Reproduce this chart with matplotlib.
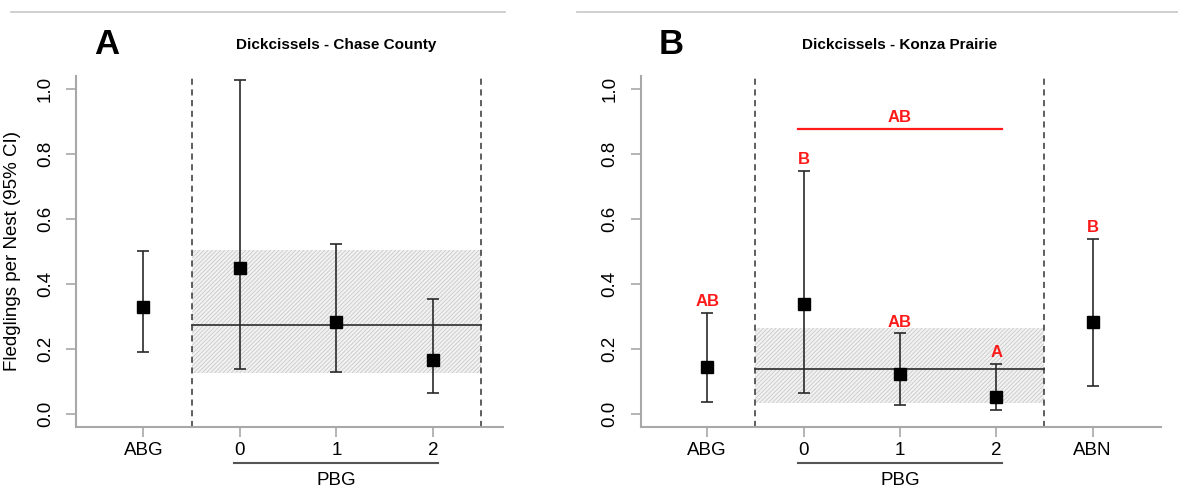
import matplotlib
matplotlib.use("Agg")
import matplotlib.pyplot as plt
from matplotlib.lines import Line2D
from matplotlib.transforms import blended_transform_factory

plt.rcParams['font.family'] = ['Liberation Sans', 'DejaVu Sans']
plt.rcParams['hatch.linewidth'] = 0.6

# Dickcissels - Chase County
chase_groups = ["ABG", "0", "1", "2"]
chase_est = [0.328, 0.447, 0.283, 0.166]
chase_lo = [0.191, 0.136, 0.129, 0.0625]
chase_hi = [0.502, 1.027, 0.521, 0.353]
chase_pbg_mean = 0.272
chase_pbg_lo = 0.126
chase_pbg_hi = 0.505

# Dickcissels - Konza Prairie
konza_groups = ["ABG", "0", "1", "2", "ABN"]
konza_est = [0.145, 0.338, 0.121, 0.050, 0.282]
konza_lo = [0.035, 0.064, 0.027, 0.010, 0.085]
konza_hi = [0.311, 0.748, 0.247, 0.152, 0.537]
konza_letters = ["AB", "B", "AB", "A", "B"]
konza_pbg_mean = 0.138
konza_pbg_lo = 0.033
konza_pbg_hi = 0.265
konza_pbg_letter = "AB"
konza_pbg_letter_y = 0.877

pbg_levels = ["0", "1", "2"]
yticks = [0.0, 0.2, 0.4, 0.6, 0.8, 1.0]

W, H = 1178, 487
fig = plt.figure(figsize=(W / 100, H / 100), dpi=100)

AX_TOP, AX_BOT = 75.7, 426.7


def px_axes(left, right):
    return fig.add_axes([left / W, 1 - AX_BOT / H, (right - left) / W, (AX_BOT - AX_TOP) / H])


SPINE = "#a8a8a8"
BAR = "#2a2a2a"


def draw_panel(ax, groups, est, lo, hi, mean, band_lo, band_hi, xlim, title):
    x = list(range(len(groups)))
    pbg_x = [i for i, g in enumerate(groups) if g in pbg_levels]
    left_div = pbg_x[0] - 0.5
    right_div = pbg_x[-1] + 0.5

    # shaded CI band of the pooled PBG estimate
    ax.fill_between([left_div, right_div], band_lo, band_hi, facecolor="#f2f2f2",
                    edgecolor="#c9c9c9", hatch="/" * 8, linewidth=0, zorder=1)
    ax.plot([left_div, right_div], [mean, mean], color="#3a3a3a", lw=1.3, zorder=2)

    for d in (left_div, right_div):
        ax.axvline(d, color="#333333", lw=1.1, linestyle=(0, (4, 3)), zorder=2)

    yerr = [[e - l for e, l in zip(est, lo)], [h - e for e, h in zip(est, hi)]]
    ax.errorbar(x, est, yerr=yerr, fmt="s", color="black", ecolor=BAR,
                elinewidth=1.2, capsize=4, capthick=1.2, markersize=8.5, zorder=3)

    ax.set_xlim(*xlim)
    ax.set_ylim(-0.04, 1.04)
    ax.set_xticks(x)
    ax.set_xticklabels(groups, fontsize=13.5)
    ax.set_yticks(yticks)
    ax.set_yticklabels([f"{v:.1f}" for v in yticks], fontsize=13.5, rotation=90,
                       va="center")
    for s in ("top", "right"):
        ax.spines[s].set_visible(False)
    for s in ("left", "bottom"):
        ax.spines[s].set_color(SPINE)
        ax.spines[s].set_linewidth(1.5)
    ax.tick_params(axis="both", color=SPINE, length=7, width=1.2)
    ax.tick_params(axis="y", pad=9)
    ax.tick_params(axis="x", pad=4)

    tr = blended_transform_factory(ax.transData, ax.transAxes)
    # PBG group bracket under the axis
    ext = 0.056
    ax.add_line(Line2D([pbg_x[0] - ext, pbg_x[-1] + ext], [-0.1026, -0.1026],
                       transform=tr, color="#555555", lw=1.5, clip_on=False))
    ax.text((pbg_x[0] + pbg_x[-1]) / 2, -0.152, "PBG", transform=tr, ha="center",
            va="center", fontsize=13.5)
    ax.text((pbg_x[0] + pbg_x[-1]) / 2, 1.0875, title, transform=tr, ha="center",
            va="center", fontsize=11, fontweight="bold")
    return pbg_x


axA = px_axes(76.3, 503.4)
draw_panel(axA, chase_groups, chase_est, chase_lo, chase_hi, chase_pbg_mean,
           chase_pbg_lo, chase_pbg_hi, (-0.694, 3.73), "Dickcissels - Chase County")
axA.set_ylabel("Fledglings per Nest (95% CI)", fontsize=13.5)
axA.yaxis.set_label_coords(-0.1295, 0.5)

axB = px_axes(640.7, 1161)
pbg_x = draw_panel(axB, konza_groups, konza_est, konza_lo, konza_hi, konza_pbg_mean,
                   konza_pbg_lo, konza_pbg_hi, (-0.69, 4.71), "Dickcissels - Konza Prairie")

RED = "#ff1a1a"
for xi, (h, lab) in enumerate(zip(konza_hi, konza_letters)):
    axB.text(xi, h + 0.035, lab, color=RED, fontsize=12, fontweight="bold",
             ha="center", va="center", zorder=4)
ext = 0.056
axB.plot([pbg_x[0] - ext, pbg_x[-1] + ext], [konza_pbg_letter_y] * 2, color=RED, lw=1.6)
axB.text((pbg_x[0] + pbg_x[-1]) / 2, konza_pbg_letter_y + 0.033, konza_pbg_letter,
         color=RED, fontsize=12, fontweight="bold", ha="center", va="center")

# panel letters and separator rules
fig.text(106.6 / W, 1 - 45 / H, "A", fontsize=25, fontweight="bold", ha="center", va="center")
fig.text(671 / W, 1 - 44 / H, "B", fontsize=25, fontweight="bold", ha="center", va="center")
yl = 1 - 12.3 / H
fig.add_artist(Line2D([11 / W, 505 / W], [yl, yl], color="#cccccc", lw=1.3))
fig.add_artist(Line2D([577 / W, 1.0], [yl, yl], color="#cccccc", lw=1.3))

fig.savefig("out.png", dpi=100, facecolor="white")
